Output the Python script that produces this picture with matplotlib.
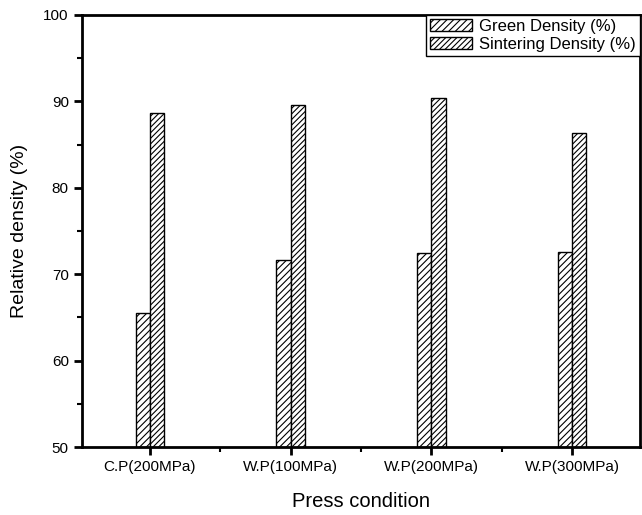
import matplotlib
matplotlib.use("Agg")
import matplotlib.pyplot as plt
import numpy as np
from matplotlib.ticker import MultipleLocator

plt.rcParams['font.family'] = ['Liberation Sans', 'DejaVu Sans']
plt.rcParams['hatch.linewidth'] = 0.8

categories = ["C.P(200MPa)", "W.P(100MPa)", "W.P(200MPa)", "W.P(300MPa)"]
green_density = [65.5, 71.6, 72.4, 72.6]
sintering_density = [88.6, 89.6, 90.4, 86.3]

fig = plt.figure(figsize=(6.42, 5.15), dpi=100)
ax = fig.add_axes([0.1277, 0.132, 0.8692, 0.8389])

x = np.arange(1, len(categories) + 1)
w = 0.1
ax.bar(x - w/2, green_density, width=w, bottom=0, color='white', edgecolor='black',
       hatch='/////', linewidth=1.0, label='Green Density (%)')
ax.bar(x + w/2, sintering_density, width=w, bottom=0, color='white', edgecolor='black',
       hatch='//////', linewidth=1.0, label='Sintering Density (%)')

ax.set_ylim(50, 100)
ax.set_xlim(0.52, 4.48)
ax.set_xticks(x)
ax.set_xticklabels(categories, fontsize=11)
ax.xaxis.set_minor_locator(MultipleLocator(0.5))
ax.yaxis.set_major_locator(MultipleLocator(10))
ax.yaxis.set_minor_locator(MultipleLocator(5))
ax.tick_params(axis='both', which='major', direction='out', length=6, width=2, labelsize=11)
ax.tick_params(axis='both', which='minor', direction='out', length=3.5, width=1.5)
for s in ax.spines.values():
    s.set_linewidth(2)

ax.set_xlabel('Press condition', fontsize=14.5, labelpad=13)
ax.set_ylabel('Relative density (%)', fontsize=14, labelpad=11)

leg = ax.legend(loc='upper right', bbox_to_anchor=(1, 1), borderaxespad=0, fontsize=12,
                fancybox=False, edgecolor='black', framealpha=1, handlelength=2.5,
                handleheight=0.75, borderpad=0.25, labelspacing=0.15, handletextpad=0.45)
leg.get_frame().set_linewidth(1)

fig.savefig('out.png', dpi=100)
